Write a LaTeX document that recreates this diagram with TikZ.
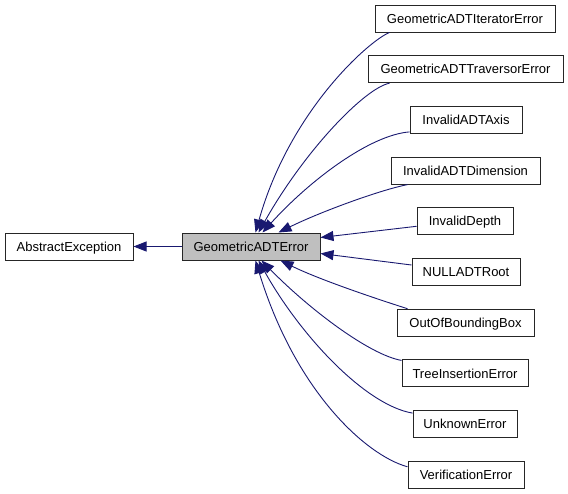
\documentclass[tikz,border=0pt]{standalone}
\usepackage{fontspec}
\setmainfont{Liberation Sans}
\usetikzlibrary{arrows.meta,calc}
\definecolor{edgeblue}{HTML}{191970}
\definecolor{parentgray}{HTML}{BFBFBF}
\tikzset{
  cls/.style={draw=black!85, line width=1pt, rectangle, inner sep=0pt,
    minimum height=27pt, text height=9.3pt, text depth=0pt,
    font=\fontsize{13}{15}\selectfont, fill=white},
  parent/.style={cls, fill=parentgray},
  edge/.style={draw=edgeblue, line width=0.9pt,
    -{Triangle[length=13pt,width=10pt]}},
}
\begin{document}
\begin{tikzpicture}[x=1pt,y=-1pt]
\useasboundingbox (0,0) rectangle (568,493);
\node[cls, minimum width=128pt] (ae) at (69,246.5) {AbstractException};
\node[parent, minimum width=138pt] (ge) at (251,246.5) {GeometricADTError};
\node[cls, minimum width=180pt] (iter) at (465,18.5) {GeometricADTIteratorError};
\node[cls, minimum width=195pt] (trav) at (465.5,69.2) {GeometricADTTraversorError};
\node[cls, minimum width=112pt] (axis) at (466,119.9) {InvalidADTAxis};
\node[cls, minimum width=149pt] (dim) at (465.5,170.6) {InvalidADTDimension};
\node[cls, minimum width=96pt] (depth) at (465,221.3) {InvalidDepth};
\node[cls, minimum width=108pt] (null) at (466,272) {NULLADTRoot};
\node[cls, minimum width=137pt] (oob) at (465.5,322.7) {OutOfBoundingBox};
\node[cls, minimum width=126pt] (tie) at (465,373.4) {TreeInsertionError};
\node[cls, minimum width=104pt] (ue) at (465,424.1) {UnknownError};
\node[cls, minimum width=116pt] (ve) at (466,474.8) {VerificationError};

\draw[edge] (ge.west) -- (ae.east);
\draw[edge] ($(iter.south west)+(15,0)$) .. controls (370,40) and (290,110) .. ($(ge.north west)+(74,0)$);
\draw[edge] ($(trav.south west)+(22,0)$) .. controls (365,88) and (305,150) .. ($(ge.north west)+(77,0)$);
\draw[edge] ($(axis.south west)+(0,-2)$) .. controls (370,135) and (310,180) .. ($(ge.north west)+(81,0)$);
\draw[edge] ($(dim.south west)+(17,0)$) .. controls (380,190) and (320,212) .. ($(ge.north west)+(97,0)$);
\draw[edge] ($(depth.west)+(0,5)$) -- ($(ge.east)+(0,-9)$);
\draw[edge] ($(null.west)+(0,-7)$) -- ($(ge.east)+(0,7)$);
\draw[edge] ($(oob.north west)+(11,0)$) .. controls (380,300) and (320,280) .. ($(ge.south west)+(99,0)$);
\draw[edge] ($(tie.north west)+(0,1)$) .. controls (370,355) and (310,310) .. ($(ge.south west)+(80,0)$);
\draw[edge] ($(ue.north west)+(0,3)$) .. controls (365,405) and (300,335) .. ($(ge.south west)+(77,0)$);
\draw[edge] ($(ve.west)+(0,-8)$) .. controls (365,455) and (295,390) .. ($(ge.south west)+(74,0)$);
\end{tikzpicture}
\end{document}
